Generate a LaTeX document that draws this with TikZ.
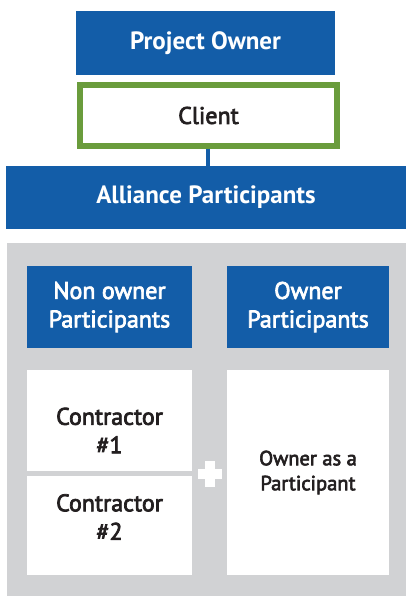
\documentclass[tikz,border=0pt]{standalone}
\usepackage{fontspec}
\setmainfont{PT Sans}
\newfontface\medface{PT Sans}[FakeBold=3]
\definecolor{allblue}{HTML}{135DA8}
\definecolor{clientgreen}{HTML}{6A9C3C}
\definecolor{panelgray}{HTML}{D1D2D4}
\definecolor{inktext}{HTML}{231F20}
\tikzset{
  bluebox/.style={fill=allblue, draw=none, text=white, align=center, inner sep=0pt},
  whitebox/.style={fill=white, draw=none, text=inktext, align=center, inner sep=0pt},
  headtext/.style={font=\fontsize{25}{28}\selectfont\bfseries},
  subtext/.style={font=\fontsize{24}{28.5}\selectfont\medface},
  linkline/.style={draw=allblue, line width=3.5pt},
}
\begin{document}
\begin{tikzpicture}[x=1pt, y=-1pt]
  \useasboundingbox (0,0) rectangle (406,596);
  \fill[white] (0,0) rectangle (406,596);

  % top governance chain
  \node[bluebox, headtext, minimum width=259pt, minimum height=64pt] (owner) at (205.5,43) {Project Owner};
  \node[whitebox, draw=clientgreen, line width=6pt, font=\fontsize{24}{28}\selectfont\medface,
        minimum width=257pt, minimum height=61pt] (client) at (208.5,115.5) {Client};
  \node[bluebox, headtext, minimum width=400pt, minimum height=63pt] (alliance) at (206,197.5) {Alliance Participants};
  \draw[linkline] (client.south -| 208,0) -- (alliance.north -| 208,0);

  % participants panel
  \fill[panelgray] (7,243) rectangle (406,596);
  \node[bluebox, subtext, minimum width=165pt, minimum height=82pt] (nonowner) at (109.5,307) {Non owner\\Participants};
  \node[bluebox, subtext, minimum width=162pt, minimum height=82pt] (ownerp) at (308,307) {Owner\\Participants};
  \node[whitebox, minimum width=165pt, minimum height=101pt] (c1) at (109.5,420.5) {};
  \node[whitebox, minimum width=165pt, minimum height=99pt] (c2) at (109.5,525.5) {};
  \node[whitebox, subtext] (c1label) at (109.5,430.5) {Contractor\\\#1};
  \node[whitebox, subtext] (c2label) at (109.5,517) {Contractor\\\#2};
  \node[whitebox, font=\fontsize{20.5}{25}\selectfont\medface, minimum width=162pt, minimum height=205pt] (oap) at (308,472.5) {Owner as a\\Participant};

  % plus sign between the two columns
  \fill[white] (198,469) rectangle (222,479);
  \fill[white] (205,461) rectangle (215,487);
\end{tikzpicture}
\end{document}
